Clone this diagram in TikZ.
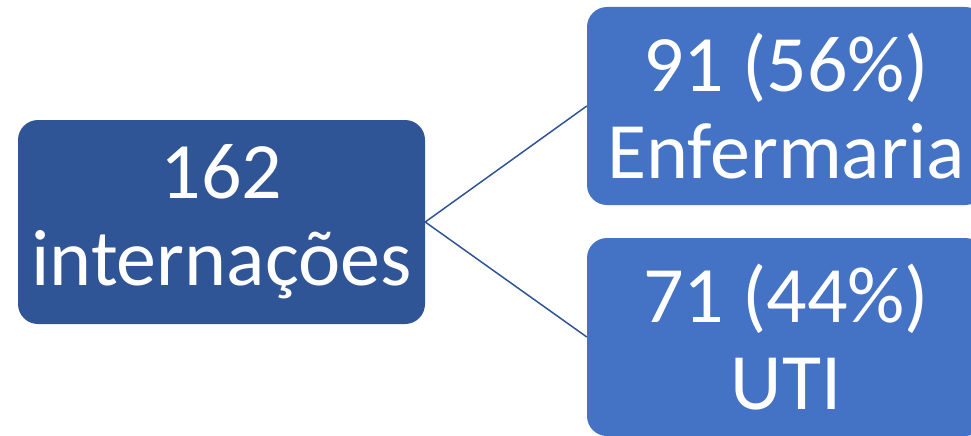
\documentclass[tikz,border=0pt]{standalone}
\usepackage{fontspec}
\setmainfont{Carlito}
\definecolor{darkbox}{HTML}{2F5597}
\definecolor{lightbox}{HTML}{4472C4}
\tikzset{
  box/.style={rectangle, rounded corners=20pt, inner sep=0pt, text=white, align=center,
    font=\fontsize{80}{87}\selectfont},
  conn/.style={draw=darkbox, line width=1.5pt}
}
\begin{document}
\begin{tikzpicture}[x=1pt,y=1pt]
\useasboundingbox (0,0) rectangle (971,-436);
\clip (0,0) rectangle (971,-436);
\node[box, fill=darkbox, minimum width=407pt, minimum height=204pt] (L) at (221.5,-222) {162\\internações};
\node[box, fill=lightbox, minimum width=398pt, minimum height=198pt] (T) at (786,-106) {91 (56\%)\\Enfermaria};
\node[box, fill=lightbox, minimum width=398pt, minimum height=198pt] (B) at (786,-337) {71 (44\%)\\UTI};
\draw[conn] (L.east) -- (T.west);
\draw[conn] (L.east) -- (B.west);
\end{tikzpicture}
\end{document}
